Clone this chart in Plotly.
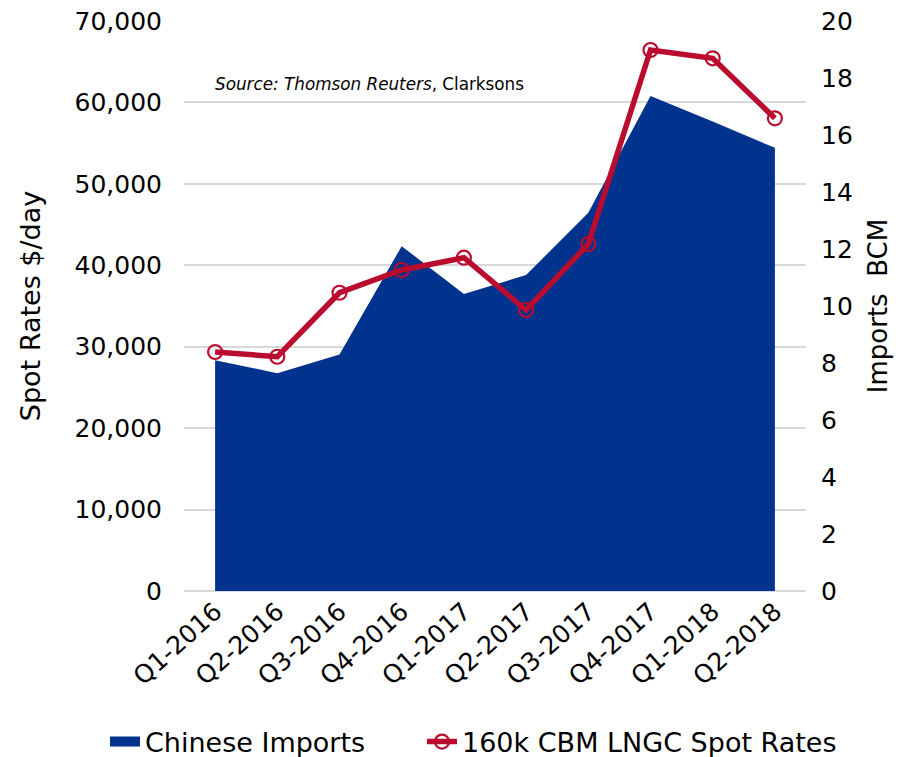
import plotly.graph_objects as go

quarters = ["Q1-2016", "Q2-2016", "Q3-2016", "Q4-2016", "Q1-2017",
            "Q2-2017", "Q3-2017", "Q4-2017", "Q1-2018", "Q2-2018"]
imports_bcm = [8.10, 7.64, 8.30, 12.10, 10.42, 11.09, 13.27, 17.37, 16.47, 15.55]
spot_rates = [29350, 28770, 36630, 39420, 40930, 34510, 42610, 66440, 65420, 58050]

FONT = "DejaVu Sans"
BLUE = "#00338D"
RED = "#BA0C2F"

fig = go.Figure()
fig.add_trace(go.Scatter(
    x=quarters, y=imports_bcm, name="Chinese Imports",
    mode="none", fill="tozeroy", fillcolor=BLUE, yaxis="y", showlegend=False,
))
# legend swatch for the area (wide filled block)
fig.add_trace(go.Scatter(
    x=[None], y=[None], name="Chinese Imports", mode="lines", yaxis="y",
    line=dict(color=BLUE, width=14), legend="legend",
))
fig.add_trace(go.Scatter(
    x=quarters, y=spot_rates, name="160k CBM LNGC Spot Rates",
    mode="lines+markers", yaxis="y2", legend="legend2",
    line=dict(color=RED, width=5.5),
    marker=dict(symbol="circle-open", size=14, color=RED, line=dict(width=2.2, color=RED)),
))

leg_y = (591 - 742) / 570
fig.update_layout(
    width=910, height=757,
    margin=dict(l=184, r=104, t=21, b=166, autoexpand=False),
    paper_bgcolor="white", plot_bgcolor="white",
    font=dict(family=FONT, size=25, color="black"),
    showlegend=True,
    legend=dict(orientation="h", x=(105 - 184) / 622, xanchor="left", y=leg_y, yanchor="middle",
                font=dict(size=27, family=FONT), bgcolor="rgba(0,0,0,0)"),
    legend2=dict(orientation="h", x=(422 - 184) / 622, xanchor="left", y=leg_y, yanchor="middle",
                 font=dict(size=27, family=FONT), bgcolor="rgba(0,0,0,0)"),
    xaxis=dict(type="category", range=[-0.5, 9.5], tickangle=-42, showgrid=False,
               showline=False, zeroline=False, ticks="", tickfont=dict(size=25)),
    yaxis=dict(side="right", range=[0, 20], dtick=2, showgrid=False, zeroline=False,
               showline=False, ticks="", ticklabelstandoff=14,
               title=dict(text="Imports  BCM", standoff=16, font=dict(size=26))),
    yaxis2=dict(overlaying="y", side="left", range=[0, 70000], dtick=10000,
                tickformat=",", showgrid=True, gridcolor="#D9D9D9", gridwidth=1.5,
                zeroline=True, zerolinecolor="#D9D9D9", zerolinewidth=1.5,
                showline=False, ticks="", ticklabelstandoff=21,
                title=dict(text="Spot Rates $/day", standoff=26, font=dict(size=27))),
    annotations=[dict(text="<i>Source: Thomson Reuters</i>, Clarksons", xref="paper", yref="paper",
                      x=(213 - 184) / 622, y=(591 - 84) / 570, xanchor="left", yanchor="middle",
                      showarrow=False, font=dict(size=16.8, family=FONT))],
)

fig.write_html("out.html")
